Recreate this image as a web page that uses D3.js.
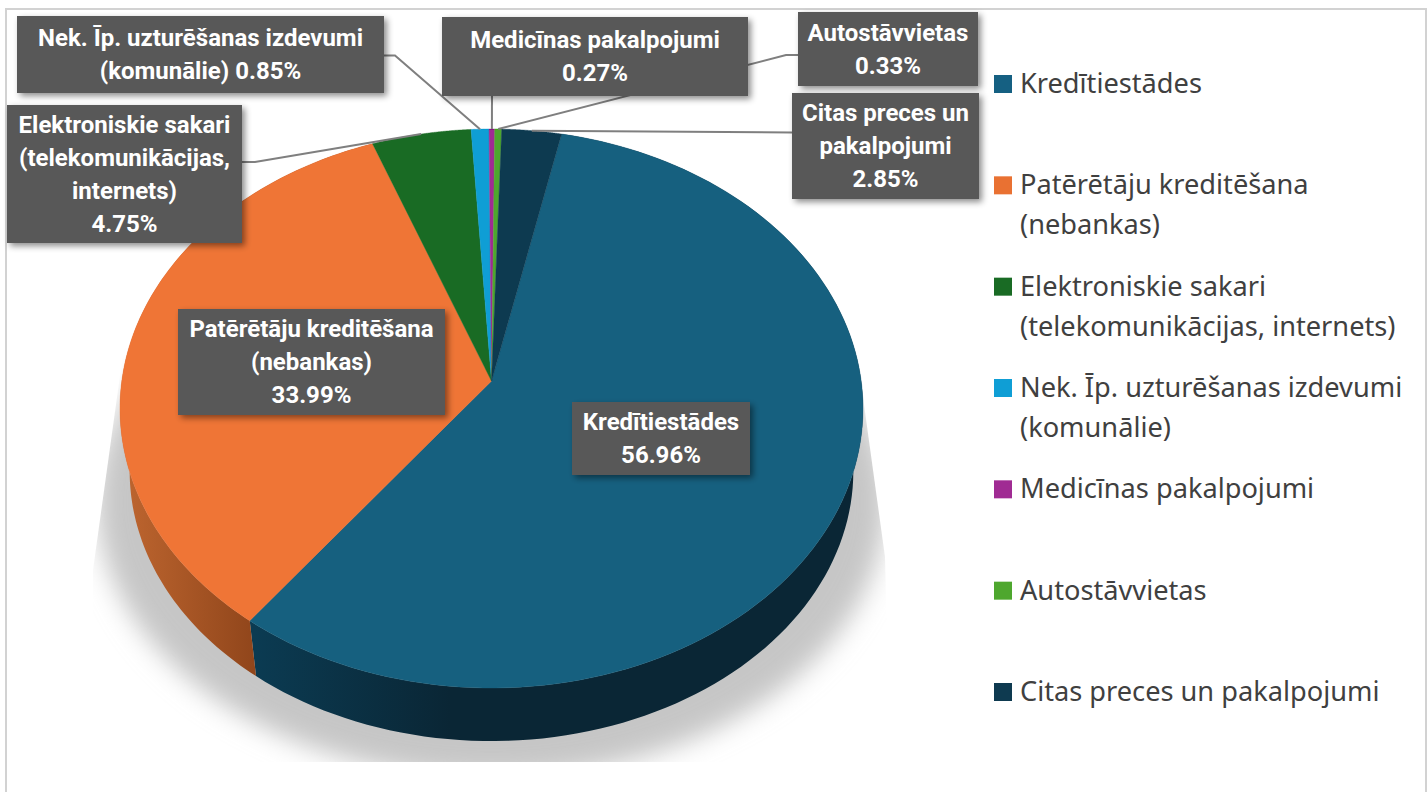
<!DOCTYPE html>
<html><head><meta charset="utf-8">
<script src="https://cdn.jsdelivr.net/npm/d3@7"></script>
<style>html,body{margin:0;padding:0;background:#fff;overflow:hidden}svg{display:block}</style>
</head><body><svg id="c" width="1427" height="792"></svg>
<script>
const categories = ["Kredītiestādes","Patērētāju kreditēšana (nebankas)","Elektroniskie sakari (telekomunikācijas, internets)","Nek. Īp. uzturēšanas izdevumi (komunālie)","Medicīnas pakalpojumi","Autostāvvietas","Citas preces un pakalpojumi"];
const values = [56.96,33.99,4.75,0.85,0.27,0.33,2.85];
const colors = ["#16607f","#ef7536","#196b24","#0f9ed5","#a02b93","#4ea72e","#0d3a50"];
const legendColors = ["#156082","#e97132","#196b24","#0f9ed5","#a02b93","#4ea72e","#0e3a50"];
const legendLines = [["Kredītiestādes"],["Patērētāju kreditēšana","(nebankas)"],["Elektroniskie sakari","(telekomunikācijas, internets)"],["Nek. Īp. uzturēšanas izdevumi","(komunālie)"],["Medicīnas pakalpojumi"],["Autostāvvietas"],["Citas preces un pakalpojumi"]];
const labelLines = [["Kredītiestādes","56.96%"],["Patērētāju kreditēšana","(nebankas)","33.99%"],["Elektroniskie sakari","(telekomunikācijas,","internets)","4.75%"],["Nek. Īp. uzturēšanas izdevumi","(komunālie) 0.85%"],["Medicīnas pakalpojumi","0.27%"],["Autostāvvietas","0.33%"],["Citas preces un","pakalpojumi","2.85%"]];
// label boxes [x0,y0,x1,y1]
const labelBoxes = [[572,402,750,475],[178,309,445,415],[7,105,242,243],[17,16,384,93],[442,17,748,96],[798,12,978,86],[792,93,979,199]];
// leader elbows, from box edge towards the slice (null = no leader)
const leaderElbows = [null,null,[[242,162],[255,162]],[[384,55.5],[395,55.5]],[[492,96],[492,96]],[[798,55],[786,55]],[[792,132.5],[792,132.5]]];

const svg = d3.select("#c");
const defs = svg.append("defs");
const F = "Roboto, 'Noto Sans', sans-serif";

// perspective projection of the pie disc
const cx = 491.5, apexY = 381, persp = -0.0984, ay = 239.3, ax = 369.7;
const vanishY = 2250, lowerScale = 0.966, lowerScaleX = 0.974;
const project = a => {
  const u = Math.sin(a), v = -Math.cos(a), d = 1 + persp * v;
  return [cx + ax * u / d, (apexY + ay * v) / d];
};
const lower = ([x, y]) => [cx + (x - cx) * lowerScaleX, vanishY + (y - vanishY) * lowerScale];
const samples = (a0, a1) => d3.range(0, 121).map(i => a0 + (a1 - a0) * i / 120);
const line = d3.line();

const arcs = d3.pie().sort(null).startAngle(12 * Math.PI / 180).endAngle(372 * Math.PI / 180)(values);

// frame
svg.append("rect").attr("x",6).attr("y",9).attr("width",1420).attr("height",800)
  .attr("fill","#fff").attr("stroke","#d2d2d2").attr("stroke-width",2);

// filters / gradients
const blur = defs.append("filter").attr("id","blur").attr("x","-20%").attr("y","-20%").attr("width","140%").attr("height","140%");
blur.append("feGaussianBlur").attr("stdDeviation",13);
const ds = defs.append("filter").attr("id","ds").attr("x","-10%").attr("y","-15%").attr("width","125%").attr("height","135%");
ds.append("feDropShadow").attr("dx",3).attr("dy",3).attr("stdDeviation",3).attr("flood-color","#000").attr("flood-opacity",0.45);
const mkGrad = (id, x1, x2, c1, c2) => {
  const g = defs.append("linearGradient").attr("id",id).attr("gradientUnits","userSpaceOnUse")
    .attr("x1",x1).attr("x2",x2).attr("y1",0).attr("y2",0);
  g.append("stop").attr("offset",0).attr("stop-color",c1);
  g.append("stop").attr("offset",1).attr("stop-color",c2);
};
mkGrad("sideOrange",125,262,"#bd652f","#8e441a");
mkGrad("sideBlue",255,450,"#0b3b52","#0a2635");
defs.append("clipPath").attr("id","shadowClip").append("polygon")
  .attr("points","124,347 93,570 93,762 890,762 885,557 862,390");

// shadow
const shadowPts = samples(0, 2 * Math.PI).map(a => {
  const [x, y] = lower(project(a));
  return [cx + (x - cx) * 1.09, y + 30 + (y - 408) * 0.02];
});
svg.append("g").attr("clip-path","url(#shadowClip)").append("path")
  .attr("d", line(shadowPts) + "Z").attr("fill","#c6c6c6").attr("filter","url(#blur)");

// side walls
const sideFill = ["url(#sideBlue)","url(#sideOrange)"];
svg.append("g").selectAll("path").data(arcs.slice(0,2)).join("path")
  .attr("d", d => {
    const top = samples(d.startAngle, d.endAngle).map(project);
    return line(top.concat(top.slice().reverse().map(lower))) + "Z";
  })
  .attr("fill",(d,i)=>sideFill[i]);

// top face
svg.append("g").selectAll("path").data(arcs).join("path")
  .attr("d", d => line([[cx, apexY]].concat(samples(d.startAngle, d.endAngle).map(project))) + "Z")
  .attr("fill",(d,i)=>colors[i]).attr("stroke",(d,i)=>colors[i]).attr("stroke-width",0.4);

// leader lines
svg.append("g").selectAll("path").data(arcs.map((d,i)=>({d,i})).filter(o=>leaderElbows[o.i])).join("path")
  .attr("d", o => line(leaderElbows[o.i].concat([project((o.d.startAngle+o.d.endAngle)/2)])))
  .attr("fill","none").attr("stroke","#7f7f7f").attr("stroke-width",2);

// data labels
const lab = svg.append("g").selectAll("g").data(labelBoxes).join("g");
lab.append("rect").attr("x",b=>b[0]).attr("y",b=>b[1]).attr("width",b=>b[2]-b[0]).attr("height",b=>b[3]-b[1])
  .attr("fill","#595959").attr("filter","url(#ds)");
lab.each(function(b,i){
  const n = labelLines[i].length, mid = (b[1]+b[3])/2;
  d3.select(this).selectAll("text").data(labelLines[i]).join("text")
    .attr("x",(b[0]+b[2])/2).attr("y",(t,j)=>mid+(j-(n-1)/2)*33+8)
    .attr("text-anchor","middle").attr("fill","#fff").attr("font-family",F)
    .attr("font-weight",700).attr("font-size",24).text(t=>t);
});

// legend
const ly = d3.scalePoint().domain(categories).range([75,683]);
const leg = svg.append("g").selectAll("g").data(categories).join("g");
leg.append("rect").attr("x",994).attr("y",c=>ly(c)).attr("width",18).attr("height",18).attr("fill",(c,i)=>legendColors[i]);
leg.each(function(c,i){
  d3.select(this).selectAll("text").data(legendLines[i]).join("text")
    .attr("x",1020).attr("y",(t,j)=>ly(c)+18+j*40)
    .attr("fill","#404040").attr("font-family","'Noto Sans', sans-serif").attr("font-size",27.2).text(t=>t);
});
</script></body></html>
